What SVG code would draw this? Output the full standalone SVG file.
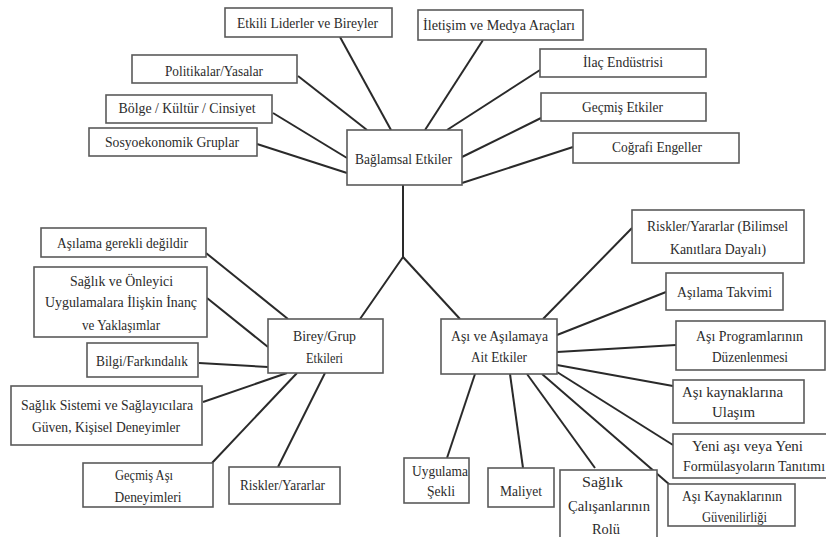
<svg xmlns="http://www.w3.org/2000/svg" width="826" height="537" viewBox="0 0 826 537">
<style>
rect{fill:#fff;stroke:#5a5a5a;stroke-width:1.6}
text{font-family:"Liberation Serif",Tinos,"Nimbus Roman","Nimbus Roman No9 L",FreeSerif,"DejaVu Serif",Times,serif;font-size:14px;fill:#2b2b2b;text-anchor:middle}
#connectors line,#connectors polyline{stroke:#2a2a2a;stroke-width:2;fill:none}
</style>
<rect x="0" y="0" width="826" height="537" style="fill:#fff;stroke:none"/>
<g id="connectors">
<line x1="340" y1="37" x2="391" y2="130"/>
<line x1="298" y1="76" x2="367" y2="130"/>
<line x1="273" y1="113" x2="347" y2="158"/>
<line x1="257" y1="144" x2="347" y2="173"/>
<line x1="483" y1="40" x2="425" y2="130"/>
<line x1="540" y1="70" x2="447" y2="130"/>
<line x1="541" y1="118" x2="462" y2="157"/>
<line x1="573" y1="147" x2="462" y2="183"/>
<polyline points="403,185 403,257 360,319"/>
<line x1="403" y1="257" x2="460" y2="319"/>
<line x1="206" y1="253" x2="288" y2="319"/>
<line x1="207" y1="298" x2="268" y2="347"/>
<line x1="199" y1="363" x2="268" y2="367"/>
<line x1="203" y1="402" x2="287" y2="373"/>
<line x1="212" y1="463" x2="297" y2="373"/>
<line x1="278" y1="467" x2="325" y2="373"/>
<line x1="543" y1="319" x2="632" y2="228"/>
<line x1="557" y1="335" x2="666" y2="292"/>
<line x1="557" y1="352" x2="676" y2="345"/>
<line x1="557" y1="365" x2="673" y2="386"/>
<line x1="557" y1="372" x2="673" y2="445"/>
<line x1="542" y1="374" x2="670" y2="485"/>
<line x1="527" y1="374" x2="595" y2="468"/>
<line x1="510" y1="374" x2="523" y2="468"/>
<line x1="475" y1="374" x2="447" y2="458"/>
</g>
<g id="n_etkili"><rect x="225" y="8" width="167" height="29"/><text x="307.5" y="28" textLength="141" lengthAdjust="spacingAndGlyphs">Etkili Liderler ve Bireyler</text></g>
<g id="n_iletisim"><rect x="418" y="10" width="165" height="30"/><text x="499" y="30" textLength="152" lengthAdjust="spacingAndGlyphs">İletişim ve Medya Araçları</text></g>
<g id="n_politika"><rect x="132" y="55" width="165" height="28"/><text x="214" y="76" textLength="98" lengthAdjust="spacingAndGlyphs">Politikalar/Yasalar</text></g>
<g id="n_ilac"><rect x="540" y="49" width="166" height="28"/><text x="623" y="67" textLength="80" lengthAdjust="spacingAndGlyphs">İlaç Endüstrisi</text></g>
<g id="n_bolge"><rect x="106" y="95" width="166" height="28"/><text x="187" y="113" textLength="137" lengthAdjust="spacingAndGlyphs">Bölge / Kültür / Cinsiyet</text></g>
<g id="n_gecmis"><rect x="541" y="93" width="165" height="28"/><text x="622.5" y="112" textLength="81" lengthAdjust="spacingAndGlyphs">Geçmiş Etkiler</text></g>
<g id="n_sosyo"><rect x="89" y="128" width="168" height="28"/><text x="172" y="147" textLength="134" lengthAdjust="spacingAndGlyphs">Sosyoekonomik Gruplar</text></g>
<g id="n_cografi"><rect x="573" y="133" width="166" height="30"/><text x="657" y="152" textLength="90" lengthAdjust="spacingAndGlyphs">Coğrafi Engeller</text></g>
<g id="n_baglamsal"><rect x="347" y="130" width="115" height="55"/><text x="403.5" y="164" textLength="97" lengthAdjust="spacingAndGlyphs">Bağlamsal  Etkiler</text></g>
<g id="n_asilama_gerekli"><rect x="41" y="228" width="165" height="29"/><text x="122.5" y="248" textLength="131" lengthAdjust="spacingAndGlyphs">Aşılama gerekli  değildir</text></g>
<g id="n_saglik_onleyici"><rect x="34" y="267" width="173" height="70"/><text x="121.5" y="286" textLength="103" lengthAdjust="spacingAndGlyphs">Sağlık ve Önleyici</text><text x="121" y="307" textLength="152" lengthAdjust="spacingAndGlyphs">Uygulamalara  İlişkin  İnanç</text><text x="121" y="330" textLength="78" lengthAdjust="spacingAndGlyphs">ve Yaklaşımlar</text></g>
<g id="n_bilgi"><rect x="87" y="343" width="111" height="34"/><text x="142" y="366" textLength="92" lengthAdjust="spacingAndGlyphs">Bilgi/Farkındalık</text></g>
<g id="n_saglik_sistemi"><rect x="11" y="386" width="191" height="59"/><text x="107" y="410" textLength="172" lengthAdjust="spacingAndGlyphs">Sağlık Sistemi  ve Sağlayıcılara</text><text x="106" y="432" textLength="148" lengthAdjust="spacingAndGlyphs">Güven, Kişisel  Deneyimler</text></g>
<g id="n_gecmis_asi"><rect x="83" y="463" width="130" height="44"/><text x="144" y="480" textLength="58" lengthAdjust="spacingAndGlyphs">Geçmiş Aşı</text><text x="148" y="502" textLength="67" lengthAdjust="spacingAndGlyphs">Deneyimleri</text></g>
<g id="n_riskler"><rect x="229" y="467" width="111" height="37"/><text x="282.5" y="490" textLength="85" lengthAdjust="spacingAndGlyphs">Riskler/Yararlar</text></g>
<g id="n_birey"><rect x="268" y="319" width="115" height="54"/><text x="324.5" y="341" textLength="63" lengthAdjust="spacingAndGlyphs">Birey/Grup</text><text x="324.5" y="363" textLength="37" lengthAdjust="spacingAndGlyphs">Etkileri</text></g>
<g id="n_asi"><rect x="441" y="319" width="116" height="55"/><text x="499.5" y="341" textLength="97" lengthAdjust="spacingAndGlyphs">Aşı ve Aşılamaya</text><text x="499" y="362" textLength="56" lengthAdjust="spacingAndGlyphs">Ait Etkiler</text></g>
<g id="n_riskler_bilimsel"><rect x="632" y="210" width="172" height="53"/><text x="717.5" y="231" textLength="141" lengthAdjust="spacingAndGlyphs">Riskler/Yararlar  (Bilimsel</text><text x="718" y="254" textLength="96" lengthAdjust="spacingAndGlyphs">Kanıtlara Dayalı)</text></g>
<g id="n_takvim"><rect x="666" y="273" width="117" height="37"/><text x="724.5" y="297" textLength="95" lengthAdjust="spacingAndGlyphs">Aşılama Takvimi</text></g>
<g id="n_program"><rect x="676" y="321" width="149" height="49"/><text x="749.5" y="341" textLength="107" lengthAdjust="spacingAndGlyphs">Aşı Programlarının</text><text x="750" y="362" textLength="76" lengthAdjust="spacingAndGlyphs">Düzenlenmesi</text></g>
<g id="n_ulasim"><rect x="673" y="380" width="131" height="43"/><text x="732.5" y="397" textLength="101" lengthAdjust="spacingAndGlyphs">Aşı kaynaklarına</text><text x="733.5" y="417" textLength="43" lengthAdjust="spacingAndGlyphs">Ulaşım</text></g>
<g id="n_yeni"><rect x="673" y="434" width="160" height="44"/><text x="747.5" y="451" textLength="111" lengthAdjust="spacingAndGlyphs">Yeni  aşı veya Yeni</text><text x="754" y="471" textLength="142" lengthAdjust="spacingAndGlyphs">Formülasyoların Tanıtımı</text></g>
<g id="n_guvenilirlik"><rect x="668" y="484" width="127" height="42"/><text x="732" y="501" textLength="100" lengthAdjust="spacingAndGlyphs">Aşı Kaynaklarının</text><text x="734.5" y="522" textLength="65" lengthAdjust="spacingAndGlyphs">Güvenilirliği</text></g>
<g id="n_saglik_calisan"><rect x="560" y="470" width="97" height="72"/><text x="602.5" y="487" textLength="41" lengthAdjust="spacingAndGlyphs">Sağlık</text><text x="609" y="511" textLength="82" lengthAdjust="spacingAndGlyphs">Çalışanlarının</text><text x="606" y="534" textLength="28" lengthAdjust="spacingAndGlyphs">Rolü</text></g>
<g id="n_maliyet"><rect x="488" y="468" width="66" height="39"/><text x="521" y="496" textLength="42" lengthAdjust="spacingAndGlyphs">Maliyet</text></g>
<g id="n_uygulama"><rect x="404" y="458" width="65" height="45"/><text x="440" y="476" textLength="56" lengthAdjust="spacingAndGlyphs">Uygulama</text><text x="441" y="496" textLength="28" lengthAdjust="spacingAndGlyphs">Şekli</text></g>
</svg>
